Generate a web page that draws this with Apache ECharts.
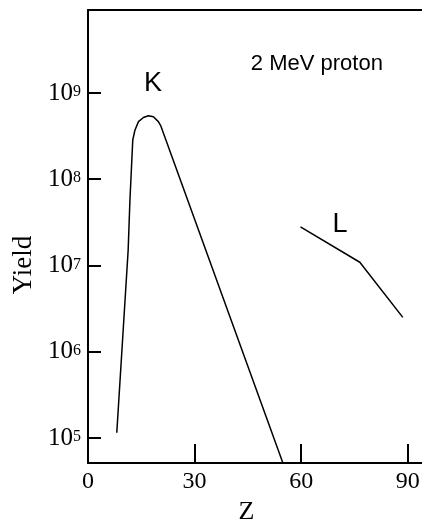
<!DOCTYPE html>
<html>
<head>
<meta charset="UTF-8">
<title></title>
<script src="https://cdn.jsdelivr.net/npm/echarts@6/dist/echarts.min.js"></script>
<style>
  * { margin: 0; padding: 0; }
  #app { width: 422px; height: 519px; background: #fff; }
</style>
</head>
<body>
<div id="app"></div>
<script>
// K-shell x-ray yield vs atomic number Z
var kZ     = [8.1, 11.3, 11.8, 12.6, 13.2, 14.2, 15.6, 17.0, 18.4, 19.8, 20.5, 54.8];
var kYield = [1.15e5, 1.5e7, 5.7e7, 2.85e8, 3.7e8, 4.65e8, 5.2e8, 5.45e8, 5.3e8, 4.65e8, 4.15e8, 5.2e4];
// L-shell
var lZ     = [59.8, 76.5, 88.6];
var lYield = [2.8e7, 1.09e7, 2.5e6];

var xTicks = [0, 30, 60, 90];
var notes = [
  { text: 'K', z: 18.3, y: 1.30e9, size: 27 },
  { text: 'L', z: 70.9, y: 3.0e7, size: 27 },
  { text: '2 MeV proton', z: 64.4, y: 2.2e9, size: 22 }
];

function pairs(xs, ys) {
  var out = [];
  for (var i = 0; i < xs.length; i++) out.push([xs[i], ys[i]]);
  return out;
}

var serif = 'Liberation Serif';
var sans = 'Liberation Sans';

var myChart = echarts.init(document.getElementById('app'));

var option = {
  animation: false,
  backgroundColor: '#fff',
  grid: { left: 88, right: 0, top: 10, bottom: 56, outerBoundsMode: 'none', containLabel: false },
  xAxis: [{
    type: 'value',
    min: 0,
    max: 94,
    name: 'Z',
    nameLocation: 'middle',
    nameGap: 30,
    nameTextStyle: { fontFamily: serif, fontSize: 26, color: '#000', padding: [0, 17, 0, 0] },
    axisLine: { lineStyle: { color: '#000', width: 2 } },
    axisTick: { inside: true, length: 19, customValues: xTicks, lineStyle: { color: '#000', width: 2 } },
    axisLabel: { customValues: xTicks, margin: 7, fontFamily: serif, fontSize: 24, color: '#000' },
    splitLine: { show: false }
  }, {
    type: 'value',
    position: 'top',
    min: 0,
    max: 94,
    axisLine: { show: true, lineStyle: { color: '#000', width: 2 } },
    axisTick: { show: false },
    axisLabel: { show: false },
    splitLine: { show: false }
  }],
  yAxis: {
    type: 'log',
    logBase: 10,
    min: Math.pow(10, 4.71),
    max: Math.pow(10, 9.962),
    name: 'Yield',
    nameLocation: 'middle',
    nameRotate: 90,
    nameGap: 51,
    nameTextStyle: { fontFamily: serif, fontSize: 27, color: '#000', padding: [0, 57, 0, 0] },
    axisLine: { show: true, lineStyle: { color: '#000', width: 2 } },
    axisTick: { inside: true, length: 13, lineStyle: { color: '#000', width: 2 } },
    axisLabel: {
      margin: 7,
      formatter: function (v) {
        var e = Math.log(v) / Math.LN10;
        var r = Math.round(e);
        if (Math.abs(e - r) > 1e-6) return '';
        return '{b|10}{s|' + r + '}';
      },
      rich: {
        b: { fontFamily: serif, fontSize: 25, color: '#000', verticalAlign: 'middle' },
        s: { fontFamily: serif, fontSize: 16, color: '#000', verticalAlign: 'middle', padding: [0, 0, 2, 0] }
      }
    },
    splitLine: { show: false }
  },
  series: [{
    name: 'K',
    type: 'line',
    data: pairs(kZ, kYield),
    showSymbol: false,
    lineStyle: { color: '#000', width: 1.5 },
    markPoint: {
      symbol: 'circle',
      symbolSize: 1,
      itemStyle: { color: 'rgba(0,0,0,0)' },
      data: notes.map(function (n) {
        return {
          coord: [n.z, n.y],
          label: {
            show: true,
            position: 'inside',
            formatter: n.text,
            fontFamily: sans,
            fontSize: n.size,
            color: '#000'
          }
        };
      })
    }
  }, {
    name: 'L',
    type: 'line',
    data: pairs(lZ, lYield),
    showSymbol: false,
    lineStyle: { color: '#000', width: 1.5 }
  }]
};

myChart.setOption(option);
</script>
</body>
</html>
